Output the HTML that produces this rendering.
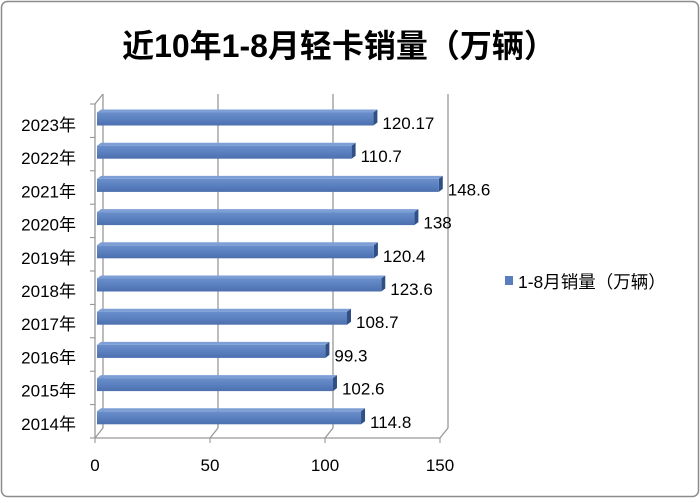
<!DOCTYPE html>
<html><head><meta charset="utf-8"><style>
body{margin:0;background:#fff;}
svg text{font-family:"Liberation Sans","Noto Sans CJK SC",sans-serif;}
</style></head><body>
<svg width="700" height="498" viewBox="0 0 700 498" xmlns="http://www.w3.org/2000/svg">
<defs>
<linearGradient id="bg" x1="0" y1="0" x2="0" y2="1"><stop offset="0" stop-color="#6a8fcb"/><stop offset="0.5" stop-color="#5b80bf"/><stop offset="1" stop-color="#4c6fae"/></linearGradient>
</defs>
<rect x="1.5" y="1.5" width="697" height="495" rx="6" fill="#fff" stroke="#8c8c8c" stroke-width="1.5"/>
<text x="339" y="57" text-anchor="middle" font-size="32" font-weight="bold" fill="#000">近10年1-8月轻卡销量（万辆）</text>
<g id="plot"></g>
<g>
<rect x="505" y="276" width="8" height="9" fill="#5a7ebd"/>
<text x="518" y="288" font-size="17.5" fill="#000">1-8月销量（万辆）</text>
</g>
</svg>
<script>
const categories=["2023年","2022年","2021年","2020年","2019年","2018年","2017年","2016年","2015年","2014年"];
const values=[120.17,110.7,148.6,138,120.4,123.6,108.7,99.3,102.6,114.8];
const valueLabels=["120.17","110.7","148.6","138","120.4","123.6","108.7","99.3","102.6","114.8"];
const ticks=[0,50,100,150];
const NS="http://www.w3.org/2000/svg";
const g=document.getElementById('plot');
const x0=95,kx=2.3,dx=8,dy=-10,yTop=104,yBot=438;
function X(v){return x0+v*kx;}
function Y(i){return 119+i*33.2;}
function mk(tag,attrs){const e=document.createElementNS(NS,tag);for(const k in attrs)e.setAttribute(k,attrs[k]);g.appendChild(e);return e;}
ticks.forEach(t=>{
 const l=mk('line',{x1:X(t)+dx,y1:yTop+dy,x2:X(t)+dx,y2:yBot+dy,stroke:'#999','stroke-width':1.3});
 
 const f=mk('line',{x1:X(t),y1:yBot,x2:X(t)+dx,y2:yBot+dy,stroke:'#999','stroke-width':1.3});
 
 const tk=mk('line',{x1:X(t),y1:yBot,x2:X(t),y2:yBot+5,stroke:'#8c8c8c'});
 
 const tx=mk('text',{x:X(t),y:471,'text-anchor':'middle','font-size':17,fill:'#000'});tx.textContent=t;
 
});
const fl=mk('line',{x1:X(0),y1:yBot,x2:X(150),y2:yBot,stroke:'#999','stroke-width':1.3});

const yl=mk('line',{x1:x0,y1:yTop,x2:x0,y2:yBot,stroke:'#999','stroke-width':1.3});

mk('line',{x1:x0,y1:yTop,x2:x0+dx,y2:yTop+dy,stroke:'#999','stroke-width':1.3});
for(let i=0;i<=categories.length;i++){
 const yy=yTop+i*33.4;
 const t=mk('line',{x1:x0-5,y1:yy,x2:x0,y2:yy,stroke:'#8c8c8c'});
 
}
categories.forEach((c,i)=>{
 const yc=Y(i),h=13,v=values[i],xe=X(v)+2;
 const top=mk('polygon',{points:`${x0+2},${yc-h/2} ${x0+6},${yc-h/2-3} ${xe+4},${yc-h/2-3} ${xe},${yc-h/2}`,fill:'#7e9fd6'});
 
 const side=mk('polygon',{points:`${xe},${yc-h/2} ${xe+4},${yc-h/2-3} ${xe+4},${yc+h/2-3} ${xe},${yc+h/2}`,fill:'#2f4f85'});
 
 const b=mk('rect',{x:x0+2,y:yc-h/2,width:xe-x0-2,height:h,fill:'url(#bg)'});
 
 const lab=mk('text',{x:X(v)+11,y:yc+10,'font-size':17,fill:'#000'});lab.textContent=valueLabels[i];
 
 const cl=mk('text',{x:76,y:yc+12,'text-anchor':'end','font-size':17,fill:'#000'});cl.textContent=c;
 
});
</script>
</body></html>
